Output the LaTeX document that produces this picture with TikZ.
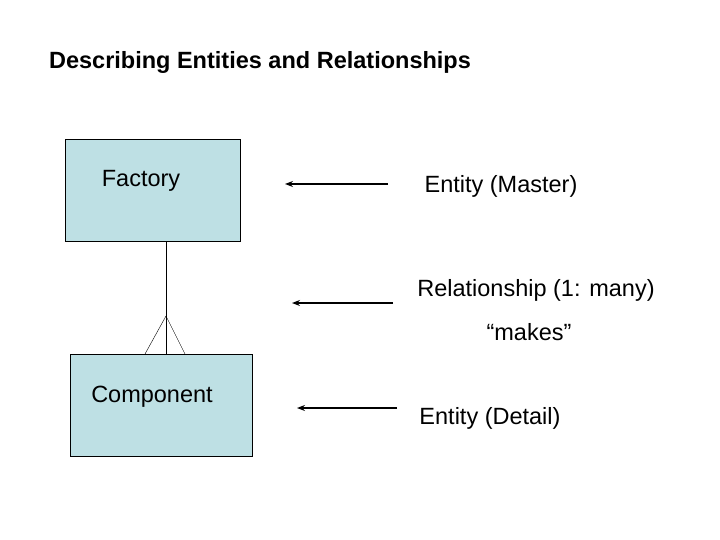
\documentclass[tikz,border=0pt]{standalone}
\usepackage{fontspec}
\setmainfont{Liberation Sans}
\usetikzlibrary{positioning, arrows.meta}
\definecolor{boxblue}{RGB}{190,224,228}
\tikzset{entity/.style={draw, fill=boxblue, minimum width=175pt, minimum height=102pt},
         label/.style={font=\fontsize{23.5}{27}\selectfont, inner sep=0pt},
         pointer/.style={-{Stealth[length=8pt,width=6pt]}, line width=1.3pt}}
\begin{document}
\begin{tikzpicture}[x=1pt, y=-1pt]
        \useasboundingbox (0,0) rectangle (720,540);

        % Title
        \node[label, font=\fontsize{23.5}{27}\selectfont\bfseries] (title) at (260,62) {Describing Entities and Relationships};

        % Entities
        \node[entity] (factory) at (152.5,190) {};
        \node[label] (factorytext) at (141,181) {Factory};
        \node[entity, minimum width=182pt] (component) at (161,405.5) {};
        \node[label] (componenttext) at (152,397) {Component};

        % Relationship with crow's foot
        \coordinate (top) at (166,241);
        \coordinate (fork) at (166,316);
        \coordinate (footl) at (145,354);
        \coordinate (footm) at (166,354);
        \coordinate (footr) at (185,354);
        \draw (top) -- (footm);
        \draw (fork) -- (footl);
        \draw (fork) -- (footr);

        % Labels and pointers
        \node[label] (master) at (501,186) {Entity (Master)};
        \node[label] (rel) at (536,290) {Relationship (1: many)};
        \node[label] (makes) at (529,332) {“makes”};
        \node[label] (detail) at (490,418) {Entity (Detail)};

        \coordinate (a1) at (388,184); \coordinate (b1) at (285,184);
        \coordinate (a2) at (393,303); \coordinate (b2) at (292,303);
        \coordinate (a3) at (397,408); \coordinate (b3) at (297,408);
        \draw[pointer] (a1) -- (b1);
        \draw[pointer] (a2) -- (b2);
        \draw[pointer] (a3) -- (b3);

\end{tikzpicture}
\end{document}
